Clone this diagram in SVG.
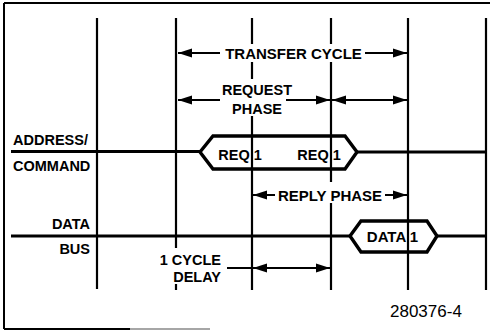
<svg xmlns="http://www.w3.org/2000/svg" width="490" height="330" viewBox="0 0 490 330">
<defs>
<marker id="ah" markerUnits="userSpaceOnUse" markerWidth="15" markerHeight="10" refX="14" refY="5" orient="auto-start-reverse">
<path d="M0,0.5 L14,5 L0,9.5 z" fill="#000"/>
</marker>
<style>
.t{font-family:"Liberation Sans",Arial,sans-serif;font-weight:bold;font-size:14.5px;fill:#000}
.l{font-size:15px}
.n{font-family:"Liberation Sans",Arial,sans-serif;font-size:17px;fill:#000}
.v{stroke:#000;stroke-width:2.2;fill:none}
.bus{stroke:#000;stroke-width:3.2;fill:none}
.hex{stroke:#000;stroke-width:3.4;fill:#fff;stroke-linejoin:miter}
.a{stroke:#000;stroke-width:2;fill:none}
</style>
</defs>
<rect width="490" height="330" fill="#fff"/>
<g id="border">
<path d="M4,3 H490 M4,3 V329" stroke="#000" stroke-width="2" fill="none"/>
<path d="M4,329 H130" stroke="#000" stroke-width="2"/>
<path d="M130,329 H210" stroke="#888" stroke-width="1.5"/>
</g>
<g id="timelines">
<path class="v" d="M97,18 V289"/>
<path class="v" d="M176,18 V248 M176,284 V290"/>
<path class="v" d="M252,18 V44 M252,62 V79 M252,116 V290"/>
<path class="v" d="M331,18 V44 M331,62 V182 M331,203 V290"/>
<path class="v" d="M408,18 V290"/>
<path class="v" d="M486,18 V290"/>
</g>
<g id="address-command">
<path class="bus" d="M11,151.5 H200 M357,152 H486"/>
<text class="t" x="13" y="145">ADDRESS/</text>
<text class="t" x="13" y="170.5">COMMAND</text>
</g>
<g id="req-hex">
<polygon class="hex" points="200,152 213,136 345,136 357,152 345,169 213,169"/>
<path class="v" d="M252,136 V169 M331,136 V169"/>
<text class="t" x="240" y="160" text-anchor="middle">REQ 1</text>
<text class="t" x="319" y="160" text-anchor="middle">REQ 1</text>
</g>
<g id="data-bus">
<path class="bus" d="M11,236 H350 M437,236 H486"/>
<text class="t" x="90" y="228.5" text-anchor="end">DATA</text>
<text class="t" x="90" y="254" text-anchor="end">BUS</text>
</g>
<g id="data-hex">
<polygon class="hex" points="350,236 361,221 427,221 437,236 427,252 361,252"/>
<path class="v" d="M408,221 V252"/>
<text class="t l" x="392.5" y="242" text-anchor="middle">DATA 1</text>
</g>
<g id="connectors">
<path class="a" d="M220,53 H178" marker-end="url(#ah)"/>
<path class="a" d="M365,53 H407" marker-end="url(#ah)"/>
<path class="a" d="M220,100 H178" marker-end="url(#ah)"/>
<path class="a" d="M286,100 H330" marker-end="url(#ah)"/>
<path class="a" d="M332,100 H407" marker-start="url(#ah)" marker-end="url(#ah)"/>
<path class="a" d="M275,195 H253" marker-end="url(#ah)"/>
<path class="a" d="M385,195 H407" marker-end="url(#ah)"/>
<path class="a" d="M227,268 H252"/>
<path class="a" d="M253,268 H330" marker-start="url(#ah)" marker-end="url(#ah)"/>
</g>
<g id="labels">
<text class="t l" x="293.5" y="58.5" text-anchor="middle">TRANSFER CYCLE</text>
<text class="t" x="257" y="94.5" text-anchor="middle">REQUEST</text>
<text class="t" x="257" y="113.5" text-anchor="middle">PHASE</text>
<text class="t l" x="330" y="200.5" text-anchor="middle">REPLY PHASE</text>
<text class="t" x="221" y="265" text-anchor="end">1 CYCLE</text>
<text class="t" x="221" y="282" text-anchor="end">DELAY</text>
<text class="n" x="390" y="317">280376-4</text>
</g>
</svg>
